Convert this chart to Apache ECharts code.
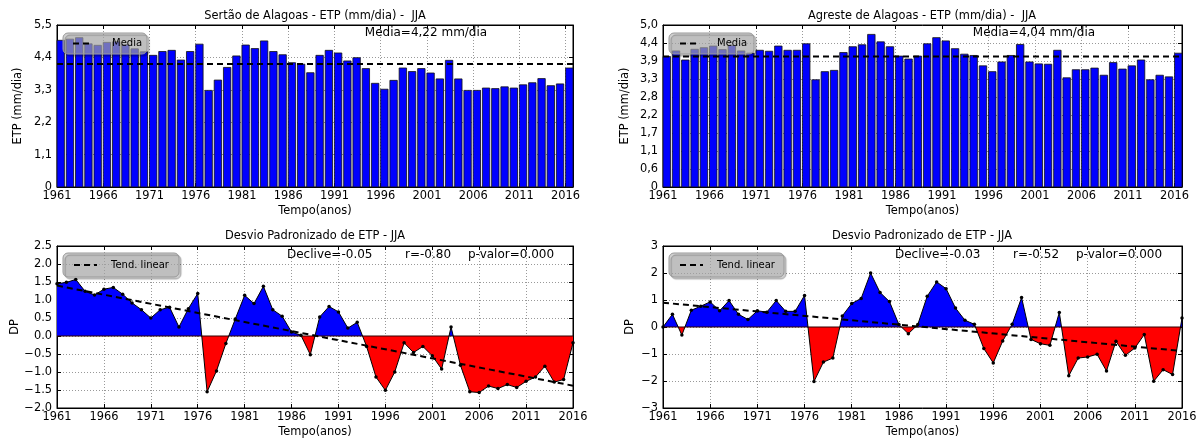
<!DOCTYPE html>
<html><head><meta charset="utf-8">
<script src="https://cdn.jsdelivr.net/npm/echarts@6/dist/echarts.min.js"></script>
<style>html,body{margin:0;padding:0;background:#fff}#c{width:1202px;height:439px}</style>
</head><body><div id="c"></div><script>
// ---------------- data ----------------
const years = [1961,1962,1963,1964,1965,1966,1967,1968,1969,1970,1971,1972,1973,1974,1975,1976,1977,1978,1979,1980,
1981,1982,1983,1984,1985,1986,1987,1988,1989,1990,1991,1992,1993,1994,1995,1996,1997,1998,1999,2000,
2001,2002,2003,2004,2005,2006,2007,2008,2009,2010,2011,2012,2013,2014,2015,2016];
const etpSertao = [4.98,5.02,5.07,4.86,4.81,4.91,4.93,4.83,4.69,4.59,
4.47,4.60,4.64,4.31,4.60,4.85,3.28,3.63,4.06,4.45,
4.82,4.70,4.96,4.60,4.49,4.22,4.17,3.88,4.47,4.64,
4.55,4.28,4.39,4.02,3.52,3.32,3.62,4.04,3.92,4.02,
3.87,3.67,4.30,3.67,3.28,3.28,3.36,3.34,3.40,3.36,
3.47,3.54,3.68,3.44,3.50,4.04];
const etpAgreste = [4.03,4.20,3.92,4.25,4.30,4.35,4.24,4.37,4.20,4.13,
4.22,4.19,4.35,4.22,4.22,4.42,3.31,3.56,3.60,4.15,
4.33,4.39,4.71,4.48,4.33,4.04,3.95,4.04,4.42,4.61,
4.51,4.27,4.10,4.06,3.74,3.56,3.86,4.06,4.40,3.86,
3.80,3.79,4.22,3.37,3.62,3.62,3.67,3.45,3.84,3.64,
3.74,3.92,3.31,3.45,3.40,4.13];
const mediaLineSertao = 4.18;   // dashed line as drawn
const mediaLineAgreste = 4.03;
const mediaTextSertao = 'Media=4,22 mm/dia';
const mediaTextAgreste = 'Media=4,04 mm/dia';
const dpSertao = [1.45,1.49,1.57,1.24,1.14,1.30,1.35,1.16,0.92,0.73,
0.50,0.73,0.80,0.25,0.76,1.18,-1.55,-0.97,-0.21,0.47,
1.13,0.90,1.38,0.73,0.55,0.11,0.02,-0.52,0.53,0.82,
0.67,0.22,0.38,-0.29,-1.14,-1.51,-1.00,-0.19,-0.46,-0.29,
-0.55,-0.92,0.25,-0.81,-1.55,-1.57,-1.39,-1.46,-1.35,-1.43,
-1.26,-1.14,-0.84,-1.28,-1.21,-0.19];
const dpAgreste = [0.00,0.47,-0.30,0.62,0.77,0.93,0.60,0.98,0.47,0.28,
0.60,0.55,0.98,0.58,0.58,1.17,-2.02,-1.30,-1.15,0.41,
0.87,1.06,2.00,1.28,0.94,0.09,-0.25,0.09,1.14,1.67,
1.42,0.70,0.25,0.10,-0.80,-1.33,-0.52,0.10,1.09,-0.46,
-0.62,-0.68,0.54,-1.81,-1.15,-1.11,-1.01,-1.63,-0.53,-1.05,
-0.78,-0.28,-2.01,-1.58,-1.76,0.33];
const trendSertao = [1.40, -1.38];   // values at 1961 and 2016
const trendAgreste = [0.90, -0.89];
const statsSertao = ['Declive=-0.05', 'r=-0.80', 'p-valor=0.000'];
const statsAgreste = ['Declive=-0.03', 'r=-0.52', 'p-valor=0.000'];
const yearTicks = [1961,1966,1971,1976,1981,1986,1991,1996,2001,2006,2011,2016];
const etpTickLabelsSertao = ['0','1,1','2,2','3,3','4,4','5,5'];
const etpTickLabelsAgreste = ['0','0,6','1,1','1,7','2,2','2,8','3,3','3,9','4,4','5,0'];
const dpTicksSertao = [-2.0,-1.5,-1.0,-0.5,0.0,0.5,1.0,1.5,2.0,2.5];
const dpTicksAgreste = [-3,-2,-1,0,1,2,3];
const titleSertao = 'Sertão de Alagoas - ETP (mm/dia) -  JJA';
const titleAgreste = 'Agreste de Alagoas - ETP (mm/dia) -  JJA';
const titleDP = 'Desvio Padronizado de ETP - JJA';

// ---------------- layout ----------------
const FONT = 'DejaVu Sans';
const FS = 11.4;
const grids = [
  {left:57, top:25, width:516, height:162},
  {left:663, top:25, width:519, height:162},
  {left:57, top:246, width:516, height:162},
  {left:663, top:246, width:519, height:162}
];
const TOP_XMAX = 2016.8;

function xAxes(gi, max){
  const base = {type:'value', gridIndex:gi, min:1961, max:max,
    axisLine:{show:true, onZero:false, lineStyle:{color:'#000', width:1}},
    axisTick:{show:true, inside:true, length:4, customValues:yearTicks, lineStyle:{color:'#000', width:1}}};
  return [
    Object.assign({}, base, {position:'bottom',
      axisLabel:{show:true, customValues:yearTicks, formatter:v=>String(v), color:'#000', fontFamily:FONT, fontSize:FS, margin:4},
      splitLine:{show:true, lineStyle:{color:'#999', width:1, type:[1,2]}},
      name:'Tempo(anos)', nameLocation:'middle', nameGap:19,
      nameTextStyle:{color:'#000', fontFamily:FONT, fontSize:FS, verticalAlign:'top'}}),
    Object.assign({}, base, {position:'top', axisLabel:{show:false}, splitLine:{show:false}})
  ];
}
function yAxes(gi, min, max, ticks, fmt, name, gap){
  const base = {type:'value', gridIndex:gi, min:min, max:max,
    axisLine:{show:true, onZero:false, lineStyle:{color:'#000', width:1}},
    axisTick:{show:true, inside:true, length:4, customValues:ticks, lineStyle:{color:'#000', width:1}}};
  return [
    Object.assign({}, base, {position:'left',
      axisLabel:{show:true, customValues:ticks, formatter:fmt, color:'#000', fontFamily:FONT, fontSize:FS, margin:5},
      splitLine:{show:true, lineStyle:{color:'#999', width:1, type:[1,2]}},
      name:name, nameLocation:'middle', nameGap:gap,
      nameTextStyle:{color:'#000', fontFamily:FONT, fontSize:FS}}),
    Object.assign({}, base, {position:'right', axisLabel:{show:false}, splitLine:{show:false}})
  ];
}
const etpTicksSertao = etpTickLabelsSertao.map((_, i) => i * 5.5 / (etpTickLabelsSertao.length - 1));
const etpTicksAgreste = etpTickLabelsAgreste.map((_, i) => i * 5.0 / (etpTickLabelsAgreste.length - 1));
const fmtSertao = v => etpTickLabelsSertao[Math.round(v / (5.5 / 5))];
const fmtAgreste = v => etpTickLabelsAgreste[Math.round(v / (5.0 / 9))];
const fmtDP1 = v => (v < 0 ? '\u2212' : '') + Math.abs(v).toFixed(1);
const fmtDP0 = v => (v < 0 ? '\u2212' : '') + Math.abs(v).toFixed(0);

const xAxis = [].concat(xAxes(0, TOP_XMAX), xAxes(1, TOP_XMAX), xAxes(2, 2016), xAxes(3, 2016));
const yAxis = [].concat(
  yAxes(0, 0, 5.5, etpTicksSertao, fmtSertao, 'ETP (mm/dia)', 33),
  yAxes(1, 0, 5.0, etpTicksAgreste, fmtAgreste, 'ETP (mm/dia)', 32),
  yAxes(2, -2, 2.5, dpTicksSertao, fmtDP1, 'DP', 36),
  yAxes(3, -3, 3, dpTicksAgreste, fmtDP0, 'DP', 27)
);

function barRender(params, api){
  const x0 = api.value(0), v = api.value(1);
  const p0 = api.coord([x0, 0]);
  const p1 = api.coord([x0 + 0.8, v]);
  return {type:'rect', shape:{x:p0[0], y:p1[1], width:p1[0]-p0[0], height:p0[1]-p1[1]},
    style:{fill:'#0000ff', stroke:'#111', lineWidth:0.8}};
}
const pairs = arr => years.map((y, i) => [y, arr[i]]);
const series = [];
const visualMap = [];
function topChart(gi, vals, mean){
  series.push({type:'custom', xAxisIndex:2*gi, yAxisIndex:2*gi, data:pairs(vals), renderItem:barRender, z:2, silent:true});
  series.push({type:'line', xAxisIndex:2*gi, yAxisIndex:2*gi, data:[[1961, mean],[TOP_XMAX, mean]], symbol:'none',
    lineStyle:{color:'#000', width:2, type:[6,4]}, z:5, silent:true});
}
function dpChart(gi, vals, trend){
  visualMap.push({type:'piecewise', show:false, seriesIndex:series.length, dimension:1,
    pieces:[{gt:0, lte:100, color:'#0000ff'}, {gt:-100, lte:0, color:'#ff0000'}]});
  series.push({type:'line', xAxisIndex:2*gi, yAxisIndex:2*gi, data:pairs(vals), symbol:'none',
    lineStyle:{width:0, opacity:0}, areaStyle:{opacity:1, origin:'auto'}, z:2, silent:true});
  series.push({type:'line', xAxisIndex:2*gi, yAxisIndex:2*gi, data:[[1961,0],[2016,0]], symbol:'none',
    lineStyle:{color:'#300', width:1}, z:3, silent:true});
  series.push({type:'line', xAxisIndex:2*gi, yAxisIndex:2*gi, data:pairs(vals), symbol:'circle', symbolSize:3.5,
    itemStyle:{color:'#000'}, lineStyle:{color:'#000', width:1}, z:4, silent:true});
  series.push({type:'line', xAxisIndex:2*gi, yAxisIndex:2*gi, data:[[1961, trend[0]],[2016, trend[1]]], symbol:'none',
    lineStyle:{color:'#000', width:2, type:[6,4]}, z:5, silent:true});
}
topChart(0, etpSertao, mediaLineSertao);
topChart(1, etpAgreste, mediaLineAgreste);
dpChart(2, dpSertao, trendSertao);
dpChart(3, dpAgreste, trendAgreste);

// ---------------- text & legends ----------------
function txt(x, y, text, size, align){
  return {type:'text', x:x, y:y, z:100, silent:true,
    style:{text:text, font:size + 'px "' + FONT + '"', fill:'#000', align:align || 'center', verticalAlign:'middle'}};
}
function legend(x, y, w, h, lx1, lx2, tx, label){
  const cy = y + h / 2;
  return [
    {type:'rect', z:100, silent:true, shape:{x:x, y:y, width:w, height:h, r:5},
      style:{fill:'rgba(180,180,180,0.62)', stroke:'#999', lineWidth:1,
        shadowColor:'rgba(0,0,0,0.3)', shadowOffsetX:2, shadowOffsetY:2, shadowBlur:1}},
    {type:'line', z:101, silent:true, shape:{x1:lx1, y1:cy, x2:lx2, y2:cy}, style:{stroke:'#000', lineWidth:2, lineDash:[6,4]}},
    txt(tx, cy, label, 10, 'left')
  ];
}
const graphic = [].concat(
  [txt(315, 16, titleSertao, FS), txt(922, 16, titleAgreste, FS),
   txt(315, 236.5, titleDP, FS), txt(922, 236.5, titleDP, FS),
   txt(426, 33, mediaTextSertao, 12), txt(1034, 33, mediaTextAgreste, 12),
   txt(287, 254.5, statsSertao[0], 12, 'left'), txt(405, 254.5, statsSertao[1], 12, 'left'), txt(468, 254.5, statsSertao[2], 12, 'left'),
   txt(895, 254.5, statsAgreste[0], 12, 'left'), txt(1013, 254.5, statsAgreste[1], 12, 'left'), txt(1076, 254.5, statsAgreste[2], 12, 'left')],
  legend(63, 33, 84, 21, 73, 93, 112, 'Media'),
  legend(669, 33, 85, 21, 680, 700, 717, 'Media'),
  legend(63, 253, 116, 24, 74, 97, 111, 'Tend. linear'),
  legend(669, 253, 115, 24, 680, 703, 717, 'Tend. linear')
);

const chart = echarts.init(document.getElementById('c'), null, {renderer:'canvas', width:1202, height:439});
chart.setOption({
  animation:false,
  backgroundColor:'#fff',
  textStyle:{fontFamily:FONT},
  grid: grids.map(g => Object.assign({show:true, borderColor:'#000', borderWidth:1, backgroundColor:'transparent', containLabel:false}, g)),
  xAxis: xAxis,
  yAxis: yAxis,
  visualMap: visualMap,
  series: series,
  graphic: graphic
});
</script></body></html>
